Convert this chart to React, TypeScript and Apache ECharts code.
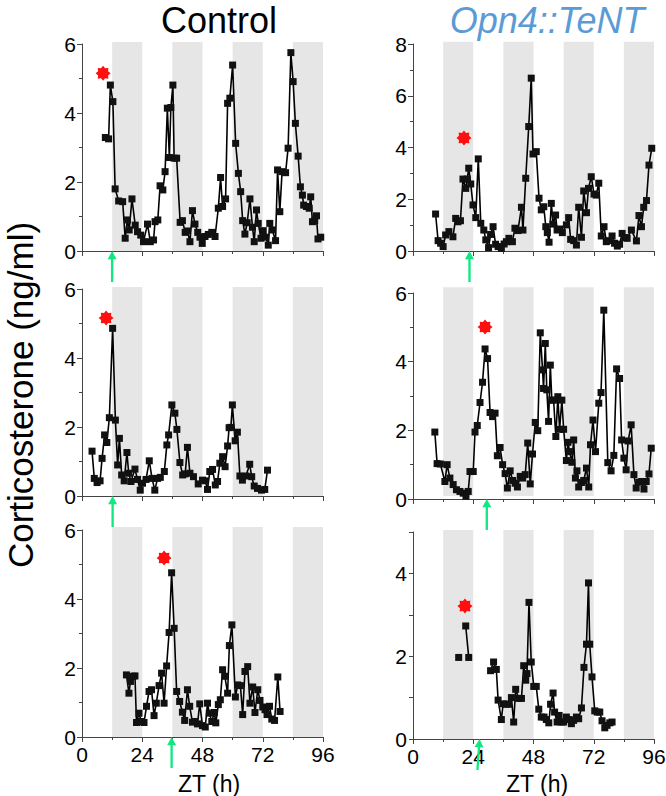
import React, { useEffect, useRef } from 'react';
import * as echarts from 'echarts';

// Night (dark phase) starts, ZT hours
const nightStarts = [12, 36, 60, 84];
const NIGHT_LEN = 12;

// Panel 1: Control, animal 1
const ctrl1ZT = [9.3,10.6,11.3,12.3,13.2,14.6,16.2,17.2,18.1,18.8,19.9,21.2,22.1,23.4,24.5,26.1,27.2,28.5,29.1,30.2,31.1,32.2,33.1,34.0,34.8,35.4,36.2,36.7,37.7,39.1,40.0,41.1,42.0,43.0,44.0,45.0,46.1,47.0,47.9,49.0,50.3,51.7,53.0,54.3,55.2,56.0,57.2,58.0,58.9,60.0,61.2,62.3,63.2,64.0,64.9,65.8,66.9,67.9,68.6,69.5,70.2,71.3,72.2,73.2,74.2,74.8,75.8,77.1,77.9,78.8,79.7,81.1,82.1,83.2,84.1,85.0,86.1,87.0,87.8,88.3,89.4,90.5,91.1,91.8,92.7,93.4,94.0,95.1];
const ctrl1Cort = [3.29,3.25,4.81,4.33,1.80,1.45,1.43,0.37,0.90,0.61,1.51,0.75,0.56,0.46,0.27,0.78,0.27,0.32,0.85,0.90,1.89,1.77,2.30,4.14,2.71,4.16,4.81,2.69,2.69,0.83,0.88,0.54,0.58,0.27,1.17,0.78,0.54,0.40,0.22,0.42,0.48,0.54,0.42,1.24,2.13,1.29,1.51,4.28,4.43,5.39,3.12,2.25,1.72,0.88,0.49,0.82,1.51,0.69,0.27,1.19,0.80,0.37,0.59,0.40,0.17,0.80,0.61,0.30,2.35,1.14,2.30,2.27,2.98,5.75,4.91,3.70,2.75,1.86,1.62,1.33,1.29,1.24,1.57,0.85,0.88,1.02,0.35,0.40];

// Panel 2: Opn4::TeNT, animal 1
const opn1ZT = [9.0,10.0,11.0,12.0,13.0,14.3,15.9,17.0,17.9,18.9,19.9,21.0,21.6,22.2,23.0,23.9,25.0,26.0,27.0,28.2,29.0,30.1,30.9,31.9,32.9,33.9,35.2,36.3,37.2,38.2,39.6,40.6,41.8,43.2,43.8,44.9,46.1,47.1,47.8,49.1,50.2,51.1,52.1,52.9,53.5,54.2,55.1,55.8,56.8,57.4,58.4,59.5,61.1,62.0,62.8,64.0,65.1,66.0,67.1,68.0,69.1,69.9,71.0,72.1,73.0,74.0,75.0,76.1,77.0,78.1,79.3,80.3,81.4,82.3,83.3,84.3,85.3,87.0,89.0,90.0,91.0,91.9,93.0,94.0,95.1];
const opn1Cort = [1.43,0.40,0.30,0.17,0.62,0.75,0.55,1.26,1.13,1.17,2.78,2.42,2.78,3.20,2.59,1.78,1.29,3.56,1.07,0.81,0.43,0.13,0.64,0.94,0.26,0.17,0.10,0.27,0.36,0.49,0.36,0.88,0.79,1.69,0.81,2.81,4.81,6.68,3.75,3.84,2.04,1.59,1.71,0.94,0.71,0.34,1.84,1.04,1.39,0.81,0.85,0.71,1.01,1.29,0.45,0.40,0.23,1.69,0.53,2.32,1.48,2.42,2.87,2.20,2.16,2.62,0.58,0.94,0.36,0.40,0.58,0.30,0.19,0.26,0.68,0.52,0.49,0.81,0.39,1.37,0.94,1.69,1.95,3.32,3.97];

// Panel 3: Control, animal 2
const ctrl2ZT = [4.0,4.9,6.0,7.2,8.0,9.0,9.9,10.9,12.2,13.3,14.2,14.9,15.8,16.8,17.9,18.6,19.5,21.1,22.1,23.2,24.1,25.5,26.8,27.9,29.0,30.1,31.2,32.8,33.8,34.5,35.8,37.0,37.8,39.0,40.1,41.1,42.0,43.0,44.4,46.3,48.0,49.1,50.0,50.9,52.0,53.1,54.0,54.9,56.0,57.0,58.0,58.6,59.3,59.9,61.0,61.9,62.9,63.9,65.3,66.8,67.6,68.6,69.9,71.5,72.8,73.9];
const ctrl2Cort = [1.30,0.51,0.39,0.44,1.09,1.77,1.55,2.27,4.86,2.20,0.90,1.67,0.61,0.44,1.26,0.66,0.42,0.78,0.48,0.17,0.37,0.48,1.02,0.51,0.17,0.51,0.54,0.71,1.48,1.77,2.64,2.40,1.93,0.97,0.61,0.64,1.41,0.66,0.56,0.35,0.46,0.44,0.19,0.71,0.77,0.32,0.42,0.95,1.14,0.85,1.45,1.98,1.99,2.64,1.60,1.85,0.58,0.46,0.58,0.92,0.56,0.29,0.22,0.17,0.19,0.75];

// Panel 4: Opn4::TeNT, animal 2
const opn2ZT = [8.7,9.6,10.9,12.7,13.6,14.7,16.0,17.3,18.7,20.0,21.1,22.0,22.7,24.0,24.7,25.6,26.7,27.7,28.7,29.7,30.7,31.7,32.7,33.6,34.7,35.7,36.7,37.6,38.7,39.7,40.7,41.6,42.7,43.7,44.7,45.7,46.7,47.6,48.7,49.7,50.7,51.6,52.0,52.7,53.3,54.0,54.7,55.3,56.0,56.9,57.7,58.4,59.3,60.0,61.1,61.7,62.4,63.3,64.0,64.7,65.3,66.0,67.1,68.0,69.1,70.0,70.7,71.7,72.7,74.0,74.9,76.0,77.6,78.9,80.0,81.1,82.3,83.1,84.0,84.9,85.7,86.9,88.0,88.9,90.0,91.1,92.0,92.9,94.0,94.9];
const opn2Cort = [1.95,1.03,1.02,0.51,1.00,0.61,0.42,0.27,0.22,0.17,0.08,0.22,0.80,0.80,1.95,2.14,2.81,3.40,4.37,4.09,2.52,2.40,2.50,1.26,1.50,1.00,0.74,0.32,0.82,0.54,0.46,0.35,0.66,0.61,0.71,1.63,0.44,1.31,2.23,1.99,4.84,3.76,3.22,4.53,3.18,2.26,3.90,2.88,2.88,1.82,2.98,2.03,2.88,2.03,1.12,1.65,1.38,1.07,1.72,0.61,0.82,0.35,0.48,0.54,0.90,0.35,1.58,2.30,1.38,2.79,3.10,5.50,1.06,0.82,1.27,3.79,3.51,1.72,1.19,0.85,1.69,2.16,0.71,0.32,0.49,0.51,0.29,0.51,0.73,1.48];

// Panel 5: Control, animal 3
const ctrl3ZT = [17.7,18.7,19.3,20.3,21.1,21.7,22.7,23.6,24.7,25.7,26.7,27.7,28.7,29.6,30.7,31.7,32.7,33.7,34.7,35.7,36.7,37.7,38.9,40.0,40.9,42.0,42.9,44.0,44.9,46.0,46.9,48.0,49.1,50.0,50.7,51.7,52.7,53.3,54.3,55.1,56.0,56.9,58.0,58.7,59.7,61.1,62.0,63.1,64.0,64.9,66.0,66.9,68.0,68.9,70.0,70.9,72.0,72.9,73.7,74.7,75.6,76.7,78.0,78.9];
const ctrl3Cort = [1.80,1.27,1.61,1.76,1.77,0.42,0.69,0.45,0.42,0.89,1.32,1.37,0.62,0.98,1.49,1.85,0.98,2.06,3.03,4.76,3.15,1.32,1.03,0.72,0.48,1.37,0.89,0.43,0.45,0.38,0.96,0.33,0.29,0.98,0.69,0.45,0.71,0.41,0.94,1.08,1.95,1.76,1.27,2.65,3.25,1.16,1.51,1.49,0.65,1.90,2.04,0.98,1.45,0.71,1.37,1.06,0.87,0.79,0.65,0.89,0.52,0.48,1.74,0.74];

// Panel 6: Opn4::TeNT, animal 3 (null = missing sample, line broken)
const opn3ZT = [18.2,19.6,21.0,22.2,26.0,30.9,32.1,33.2,33.9,35.2,35.9,37.2,38.1,39.2,40.1,40.9,42.1,43.2,44.1,44.9,45.4,46.2,47.1,48.1,49.1,50.1,51.1,52.2,53.1,54.1,54.8,55.8,56.4,57.4,58.2,59.1,60.0,61.1,62.2,63.1,64.0,65.1,66.0,67.1,68.1,69.1,69.9,70.4,71.3,72.4,73.4,74.4,75.3,76.4,77.3,78.4,79.3];
const opn3Cort = [1.97,null,2.73,1.97,null,1.65,1.86,1.68,0.94,0.47,0.85,0.84,0.84,1.00,0.41,1.20,0.98,0.98,1.77,1.42,1.58,3.30,1.86,1.27,1.27,0.72,0.53,0.53,0.47,0.39,0.84,1.11,0.65,0.41,0.57,0.41,0.41,0.53,0.47,0.37,0.45,0.53,0.49,0.75,1.73,2.29,3.77,2.29,1.50,0.68,0.65,0.65,0.44,0.27,0.33,0.39,0.41];

// Red star (peak marker) and green arrow (lights event) per panel: TL, TR, ML, MR, BL, BR
const starZT = [8.4, 20.3, 9.6, 28.7, 32.7, 20.7];
const starCort = [5.15, 4.37, 5.16, 5.01, 5.19, 3.21];
const arrowZT = [12.0, 22.5, 12.2, 29.4, 35.7, 26.1];

const yMaxes = [6, 8, 6, 6, 6, 5];
const yTickLabels = [[0, 2, 4, 6], [0, 2, 4, 6, 8], [0, 2, 4, 6], [0, 2, 4, 6], [0, 2, 4, 6], [0, 2, 4]];
const xTickLabels = [0, 24, 48, 72, 96];

const FONT = '"Liberation Sans", Arial, Helvetica, sans-serif';
const AXIS_COLOR = '#444';

function starPath(): string {
  const n = 8;
  let d = '';
  for (let k = 0; k < 2 * n; k++) {
    const a = -Math.PI / 2 + (k * Math.PI) / n;
    const r = k % 2 === 0 ? 50 : 36;
    const x = 50 + r * Math.cos(a);
    const y = 50 + r * Math.sin(a);
    d += (k === 0 ? 'M' : 'L') + x.toFixed(2) + ',' + y.toFixed(2) + ' ';
  }
  return 'path://' + d + 'Z';
}
const STAR = starPath();
const ARROW = 'path://M5,0 L10,9 L6.3,9 L6.3,34 L3.7,34 L3.7,9 L0,9 Z';

const panels = [
  { zt: ctrl1ZT, cort: ctrl1Cort, left: 82, top: 44, height: 207, band: [0, 6.06], rot: 0 },
  { zt: opn1ZT, cort: opn1Cort, left: 413, top: 44, height: 207, band: [0, 8.09], rot: 0 },
  { zt: ctrl2ZT, cort: ctrl2Cort, left: 82, top: 289, height: 207, band: [0, 6.06], rot: 0 },
  { zt: opn2ZT, cort: opn2Cort, left: 413, top: 293, height: 206, band: [0.09, 6.17], rot: 0 },
  { zt: ctrl3ZT, cort: ctrl3Cort, left: 82, top: 530, height: 207, band: [0, 6.09], rot: 0 },
  { zt: opn3ZT, cort: opn3Cort, left: 413, top: 532, height: 207, band: [0, 5.05], rot: -4 },
];

export default function App() {
  const ref = useRef<HTMLDivElement>(null);

  useEffect(() => {
    if (!ref.current) return;
    const chart = echarts.init(ref.current, undefined, { renderer: 'svg' });

    const grid: any[] = [];
    const xAxis: any[] = [];
    const yAxis: any[] = [];
    const series: any[] = [];

    panels.forEach((p, i) => {
      grid.push({ left: p.left, top: p.top, width: 241, height: p.height, containLabel: false, outerBoundsMode: 'none' });
      const isBottom = i >= 4;
      xAxis.push({
        gridIndex: i, type: 'value', position: 'bottom', min: 0, max: 96, interval: 24,
        axisLine: { show: true, onZero: false, lineStyle: { color: AXIS_COLOR, width: 1 } },
        axisTick: { show: true, length: 5, lineStyle: { color: AXIS_COLOR } },
        minorTick: { show: true, splitNumber: 2, length: 3, lineStyle: { color: AXIS_COLOR } },
        splitLine: { show: false },
        axisLabel: {
          show: isBottom, fontSize: 21, color: '#000', fontFamily: FONT, margin: 7,
          formatter: (v: number) => (xTickLabels.includes(v) ? String(v) : ''),
        },
      });
      xAxis.push({
        gridIndex: i, type: 'value', position: 'bottom', min: 0, max: 99,
        axisLine: { show: true, onZero: false, lineStyle: { color: AXIS_COLOR, width: 1 } },
        axisTick: { show: false }, axisLabel: { show: false }, splitLine: { show: false },
      });
      const isBR = i === 5;
      yAxis.push({
        gridIndex: i, type: 'value', min: 0, max: yMaxes[i], interval: isBR ? 1 : 2,
        axisLine: { show: true, lineStyle: { color: AXIS_COLOR, width: 1 } },
        axisTick: { show: true, length: isBR ? 4 : 5, lineStyle: { color: AXIS_COLOR } },
        minorTick: { show: !isBR, splitNumber: 2, length: 3, lineStyle: { color: AXIS_COLOR } },
        splitLine: { show: false },
        axisLabel: {
          fontSize: 21, color: '#000', fontFamily: FONT, margin: 6,
          formatter: (v: number) => (yTickLabels[i].includes(v) ? String(v) : ''),
        },
      });

      const bandTop = p.band[1];
      const bandBottom = p.band[0];
      series.push({
        type: 'custom', xAxisIndex: 2 * i, yAxisIndex: i, z: 1, silent: true, clip: false,
        data: nightStarts.map((s) => [s, s + NIGHT_LEN]),
        encode: { x: [0, 1] },
        renderItem: (params: any, api: any) => {
          const p0 = api.coord([api.value(0), bandTop]);
          const p1 = api.coord([api.value(1), bandBottom]);
          return {
            type: 'rect',
            shape: { x: p0[0], y: p0[1], width: p1[0] - p0[0], height: p1[1] - p0[1] },
            style: { fill: '#e6e6e6' },
          };
        },
      });
      series.push({
        type: 'line', xAxisIndex: 2 * i, yAxisIndex: i, z: 3, silent: true,
        data: p.zt.map((x, k) => [x, p.cort[k] == null ? '-' : p.cort[k]]),
        symbol: 'rect', symbolSize: 7, showAllSymbol: true, connectNulls: false,
        itemStyle: { color: '#111', opacity: 1 },
        lineStyle: { color: '#000', width: 1.6 },
      });
      series.push({
        type: 'scatter', xAxisIndex: 2 * i, yAxisIndex: i, z: 4, silent: true,
        data: [[starZT[i], starCort[i]]],
        symbol: STAR, symbolSize: 15,
        itemStyle: { color: '#ff1010', opacity: 1 },
      });
      series.push({
        type: 'scatter', xAxisIndex: 2 * i, yAxisIndex: i, z: 5, silent: true, clip: false,
        data: [[arrowZT[i], 0]],
        symbol: ARROW, symbolSize: [9, 31], symbolOffset: [0, '50%'], symbolRotate: p.rot,
        itemStyle: { color: '#12e882', opacity: 1 },
      });
    });

    chart.setOption({
      animation: false,
      backgroundColor: '#fff',
      grid, xAxis, yAxis, series,
      graphic: [
        { type: 'text', x: 219, y: 20.8, style: { text: 'Control', font: `36px ${FONT}`, fill: '#000', align: 'center', verticalAlign: 'middle' } },
        { type: 'text', x: 547, y: 20.8, style: { text: 'Opn4::TeNT', font: `italic 36px ${FONT}`, fill: '#5b9bd5', align: 'center', verticalAlign: 'middle' } },
        { type: 'text', x: 20.2, y: 395, rotation: Math.PI / 2, style: { text: 'Corticosterone (ng/ml)', font: `35px ${FONT}`, fill: '#000', align: 'center', verticalAlign: 'middle' } },
        { type: 'text', x: 209, y: 784, style: { text: 'ZT (h)', font: `23px ${FONT}`, fill: '#000', align: 'center', verticalAlign: 'middle' } },
        { type: 'text', x: 537, y: 784, style: { text: 'ZT (h)', font: `23px ${FONT}`, fill: '#000', align: 'center', verticalAlign: 'middle' } },
      ],
    });

    return () => chart.dispose();
  }, []);

  return <div ref={ref} style={{ position: 'fixed', left: 0, top: 0, width: 666, height: 796 }} />;
}
